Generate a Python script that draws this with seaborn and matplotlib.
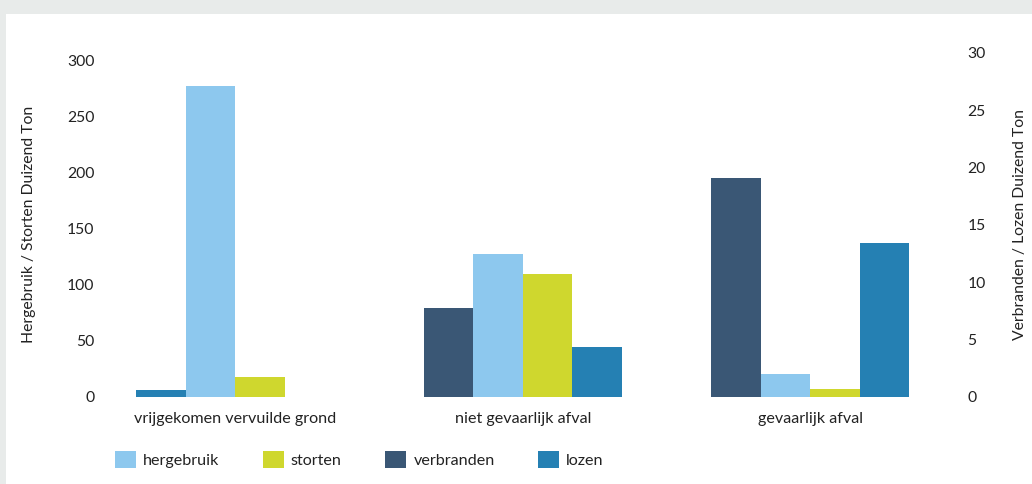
import matplotlib
matplotlib.use("Agg")
import matplotlib.pyplot as plt
import matplotlib.patches as mpatches
import seaborn as sns
import pandas as pd
import numpy as np

categories = ["vrijgekomen vervuilde grond", "niet gevaarlijk afval", "gevaarlijk afval"]
hergebruik = [277, 127, 20.2]
storten = [17.5, 109.4, 6.9]
verbranden = [0.6, 7.7, 19.1]   # first group is drawn in the lozen colour in the original
lozen = [np.nan, 4.3, 13.4]

left_ticks = [0, 50, 100, 150, 200, 250, 300]
right_ticks = [0, 5, 10, 15, 20, 25, 30]

series_order = ["verbranden", "hergebruik", "storten", "lozen"]
legend_order = ["hergebruik", "storten", "verbranden", "lozen"]
colors = {"hergebruik": "#8dc8ee", "storten": "#cfd72e",
          "verbranden": "#3a5775", "lozen": "#2580b3"}

rows = []
for name, vals in [("hergebruik", hergebruik), ("storten", storten),
                   ("verbranden", verbranden), ("lozen", lozen)]:
    for c, v in zip(categories, vals):
        rows.append({"categorie": c, "serie": name, "waarde": v})
df = pd.DataFrame(rows)
df_left = df[df.serie.isin(["hergebruik", "storten"])]
df_right = df[df.serie.isin(["verbranden", "lozen"])].dropna()

sns.set_theme(style="white")
plt.rcParams["font.family"] = ["Lato", "DejaVu Sans"]
text_color = "#222222"

W, H = 1032, 484
fig = plt.figure(figsize=(W / 100, H / 100), dpi=100, facecolor="#e8ebea")
# white panel
fig.patches.append(mpatches.Rectangle((6 / W, 0), 1, 1 - 14 / H, transform=fig.transFigure,
                                      facecolor="white", edgecolor="none", zorder=-10))

ax_l, ax_r = 91.75, 953.75
ax_t, ax_b = 53.0, 396.7
ax = fig.add_axes([ax_l / W, 1 - ax_b / H, (ax_r - ax_l) / W, (ax_b - ax_t) / H])
ax.set_facecolor("none")
ax2 = ax.twinx()

sns.barplot(data=df_left, x="categorie", y="waarde", hue="serie", order=categories,
            hue_order=series_order, palette=colors, width=0.69, errorbar=None,
            saturation=1, ax=ax, legend=False, linewidth=0)
sns.barplot(data=df_right, x="categorie", y="waarde", hue="serie", order=categories,
            hue_order=series_order, palette=colors, width=0.69, errorbar=None,
            saturation=1, ax=ax2, legend=False, linewidth=0)

# the first bar of the first group is shown in the lozen colour
first = min(ax2.patches, key=lambda p: p.get_x())
first.set_facecolor(colors["lozen"])

ax.set_xlim(-0.5, 2.5)
ax.set_ylim(0, 306.5)
ax2.set_ylim(0, 30)
ax.set_yticks(left_ticks)
ax2.set_yticks(right_ticks)

for a in (ax, ax2):
    for s in a.spines.values():
        s.set_visible(False)
    a.grid(False)
    a.tick_params(length=0, colors=text_color, labelsize=11.3)

ax.tick_params(axis="y", pad=-2)
ax2.tick_params(axis="y", pad=10)
ax.tick_params(axis="x", pad=11, labelsize=11.6)

ax.set_xlabel("")
ax.set_ylabel("Hergebruik / Storten Duizend Ton", fontsize=11.3, color=text_color)
ax2.set_ylabel("Verbranden / Lozen Duizend Ton", fontsize=11.3, color=text_color)
ax.yaxis.set_label_coords((36 - ax_l) / (ax_r - ax_l), 0.5)
ax2.yaxis.set_label_coords((1013 - ax_l) / (ax_r - ax_l), 0.5)

handles = [mpatches.Patch(facecolor=colors[n], edgecolor="none", label=n) for n in legend_order]
fig.legend(handles=handles, loc="center left", bbox_to_anchor=(115 / W, 1 - 459.5 / H),
           ncol=4, frameon=False, fontsize=11.6, handlelength=1.3, handleheight=1.3,
           handletextpad=0.44, columnspacing=2.7, borderpad=0, borderaxespad=0,
           labelcolor=text_color)

fig.savefig("out.png", dpi=100, facecolor=fig.get_facecolor())
